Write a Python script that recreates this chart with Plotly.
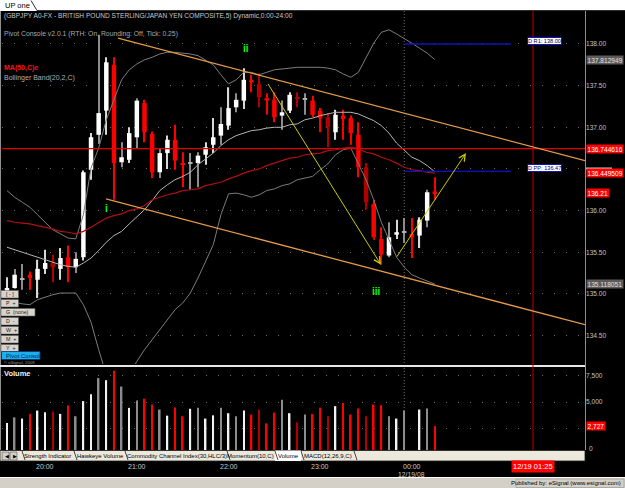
import plotly.graph_objects as go
import pandas as pd

W, H = 625, 488
def px(x): return x / W
def py(y): return 1 - y / H

FONT = "Liberation Sans, Arial, sans-serif"

# ---------------- data ----------------
first_bar = "2008-12-18 19:35"
opens  = [135.03,135.07,135.17,135.23,135.17,135.30,135.37,135.30,135.44,135.32,
          135.44,136.49,136.91,137.20,137.75,136.58,136.61,136.88,137.29,136.92,
          136.46,136.69,136.85,136.57,136.56,136.57,136.67,136.79,136.90,137.02,
          137.24,137.32,137.57,137.52,137.35,137.33,137.14,137.20,137.36,137.33,
          137.32,137.20,137.12,136.94,137.14,137.11,136.91,136.52,136.08,135.66,
          135.46,135.71,135.74,135.72,135.70,135.88,136.23]
highs  = [135.20,135.30,135.36,135.27,135.41,135.53,135.47,135.55,135.58,135.50,
          136.48,136.93,138.11,137.84,137.84,136.82,137.00,137.35,137.33,136.95,
          136.75,136.90,137.03,136.70,136.69,136.70,136.82,137.11,137.24,137.48,
          137.41,137.71,137.63,137.65,137.41,137.42,137.32,137.42,137.42,137.41,
          137.38,137.23,137.17,137.21,137.21,137.14,137.06,136.57,136.13,135.80,
          135.86,135.89,135.91,135.91,135.92,136.25,136.40]
lows   = [135.02,135.06,135.05,135.05,134.95,135.24,135.14,135.17,135.14,135.25,
          135.40,136.37,136.80,136.91,136.13,136.52,136.57,136.75,136.82,136.39,
          136.39,136.50,136.49,136.28,136.25,136.28,136.55,136.69,136.79,136.97,
          137.18,137.22,137.42,137.24,137.15,137.06,136.97,137.17,137.24,137.15,
          137.12,136.94,136.76,136.85,136.85,136.79,136.40,136.01,135.65,135.35,
          135.44,135.66,135.61,135.43,135.55,135.80,136.13]
closes = [135.07,135.23,135.17,135.19,135.30,135.37,135.32,135.43,135.32,135.42,
          136.46,136.88,137.17,137.78,136.57,136.64,136.93,137.32,136.94,136.46,
          136.69,136.85,136.60,136.55,136.56,136.66,136.76,136.88,137.04,137.23,
          137.33,137.57,137.54,137.36,137.32,137.12,137.18,137.39,137.34,137.33,
          137.15,137.11,137.00,137.15,137.10,136.93,136.52,136.10,135.68,135.47,
          135.68,135.74,135.74,135.68,135.89,136.22,136.21]
volumes = [3020,3560,3440,3890,4200,4040,4110,3890,4710,3660,
           5100,5740,7280,7080,7980,6480,4460,5160,5330,4780,
           4300,3720,4490,3660,4370,4460,3440,3750,4460,3950,
           3660,4200,3820,4300,2990,4010,5230,3950,3080,3820,
           3890,4460,3660,4620,4910,3820,4400,3660,4780,4710,
           3660,3440,4200,0,4300,4400,2727]
bar_tone = ['w','g','w','r','w','w','d','w','r','g',
            'w','w','g','w','r','g','w','g','r','r',
            'g','w','r','r','w','g','w','w','g','w',
            'g','w','r','d','r','r','g','w','d','g',
            'r','r','d','w','r','r','r','d','r','r',
            'g','w','g','r','w','g','r']
ma50 = [135.88,135.86,135.85,135.84,135.82,135.80,135.78,135.75,135.74,135.72,
        135.75,135.80,135.86,135.91,135.94,135.96,136.00,136.02,136.06,136.13,
        136.16,136.19,136.21,136.24,136.25,136.26,136.30,136.32,136.34,136.38,
        136.41,136.45,136.48,136.50,136.54,136.57,136.60,136.63,136.64,136.67,
        136.68,136.69,136.72,136.73,136.75,136.76,136.74,136.70,136.68,136.64,
        136.61,136.57,136.52,136.49,136.48,136.46,136.4495]
bb_upper = [136.24,136.16,136.10,136.04,135.95,135.86,135.77,135.72,135.67,135.66,
            135.95,136.51,136.75,137.09,137.34,137.57,137.69,137.76,137.81,137.84,
            137.88,137.90,137.90,137.89,137.88,137.86,137.81,137.75,137.63,137.52,
            137.57,137.66,137.66,137.63,137.66,137.69,137.70,137.71,137.72,137.72,
            137.72,137.72,137.71,137.69,137.64,137.60,137.66,137.83,138.01,138.14,
            138.17,138.12,138.07,138.01,137.95,137.89,137.8129]
bb_mid = [135.56,135.53,135.50,135.47,135.44,135.41,135.38,135.35,135.33,135.32,
          135.37,135.43,135.52,135.62,135.70,135.75,135.84,135.92,136.01,136.12,
          136.24,136.31,136.37,136.41,136.46,136.55,136.62,136.69,136.78,136.85,
          136.90,136.93,136.96,136.97,136.99,137.00,137.00,137.03,137.04,137.09,
          137.11,137.14,137.16,137.18,137.18,137.18,137.16,137.12,137.08,137.02,
          136.93,136.81,136.73,136.64,136.60,136.54,136.4655]
bb_lower = [134.93,134.90,134.88,134.87,134.93,134.96,134.99,135.01,135.01,135.01,
            134.87,134.66,134.33,134.03,133.91,133.91,134.03,134.19,134.33,134.45,
            134.57,134.69,134.81,134.89,135.01,135.19,135.38,135.59,135.95,136.20,
            136.21,136.19,136.16,136.19,136.24,136.26,136.30,136.32,136.37,136.39,
            136.41,136.49,136.56,136.67,136.73,136.75,136.57,136.37,136.13,135.86,
            135.65,135.44,135.32,135.23,135.19,135.15,135.1181]

price_ticks = [134.5, 135.0, 135.5, 136.0, 136.5, 137.0, 137.5, 138.0]
hidden_price_ticks = [136.5]          # covered by the MA value box in the picture
vol_ticks = [2500, 5000, 7500]
vol_tick_text = ["", "5,000", "7,500"]
hour_ticks = ["2008-12-18 20:00", "2008-12-18 21:00", "2008-12-18 22:00",
              "2008-12-18 23:00", "2008-12-19 00:00"]
hour_labels = ["20:00", "21:00", "22:00", "23:00", "00:00"]
day_label = "12/19/08"
x_range = ["2008-12-18 19:31:44", "2008-12-19 01:53:18"]
price_range = [134.158, 138.384]
vol_range = [461, 8333]

ref_line_value = 136.744616
cursor_time = "2008-12-19 01:19:15"
cursor_label = "12/19 01:25"
session_break = "2008-12-18 23:55"

pivot_names = ["D R1", "D PP"]
pivot_values = [138.00, 136.47]
pivot_start = "2008-12-18 23:55"
pivot_end = "2008-12-19 01:05"

trend_x0 = ["2008-12-18 20:47:39", "2008-12-18 20:39:48"]
trend_y0 = [138.07, 136.14]
trend_x1 = ["2008-12-19 01:53:18", "2008-12-19 01:53:18"]
trend_y1 = [136.60, 134.63]

arrow_tail_t = ["2008-12-18 22:25:10", "2008-12-18 23:49:35"]
arrow_tail_p = [137.54, 135.43]
arrow_head_t = ["2008-12-18 23:39:45", "2008-12-19 00:35:25"]
arrow_head_p = [135.35, 136.69]

wave_labels = ["i", "ii", "iii"]
wave_times = ["2008-12-18 20:40:27", "2008-12-18 22:11:24", "2008-12-18 23:37:09"]
wave_prices = [136.03, 137.95, 135.03]

marker_values = [137.812949, 136.744616, 136.449509, 136.21, 135.118051]
marker_texts = ["137.812949", "136.744616", "136.449509", "136.21", "135.118051"]
marker_bg = ["#5c5c5c", "#ff0000", "#ff0000", "#ff0000", "#5c5c5c"]
marker_fg = ["#e0e0e0", "#ffffff", "#ffffff", "#ffffff", "#e0e0e0"]
last_volume_text = "2,727"

title_text = "(GBPJPY A0-FX - BRITISH POUND STERLING/JAPAN YEN COMPOSITE,5) Dynamic,0:00-24:00"
pivot_text = "Pivot Console v2.0.1 (RTH: On, Rounding: Off, Tick: 0.25)"
ma_text = "MA(50,C)e"
bb_text = "Bollinger Band(20,2,C)"
tab_labels = ["Strength Indicator", "Hawkeye Volume", "Commodity Channel Index(30,HLC/3)",
              "Momentum(10,C)", "Volume", "MACD(12,26,9,C)"]
button_labels = ["[ - ]", "P  +", "G  (none)", "D  -", "W  +", "M  +", "Y  +"]

# ---------------- figure ----------------
times = pd.date_range(first_bar, periods=len(opens), freq="5min")
tone_col = {'w': '#f2f2f2', 'g': '#8c8c8c', 'r': '#ff0000', 'd': '#b00000'}
vol_colors = [tone_col[t] for t in bar_tone]

body_base, body_h, body_col, wick_col = [], [], [], []
for o, c, t in zip(opens, closes, bar_tone):
    body_base.append(min(o, c))
    body_h.append(max(abs(c - o), 0.012))
    if c > o:
        body_col.append('#ffffff')
        wick_col.append('#8c8c8c' if t == 'g' else '#d8d8d8')
    elif c < o:
        col = '#b00000' if t == 'd' else '#ff0000'
        body_col.append(col); wick_col.append(col)
    else:
        body_col.append('#b0b0b0'); wick_col.append('#8c8c8c')

fig = go.Figure()
fig.add_trace(go.Scatter(x=times, y=bb_upper, mode='lines', line=dict(color='#7c7c7c', width=1)))
fig.add_trace(go.Scatter(x=times, y=bb_lower, mode='lines', line=dict(color='#7c7c7c', width=1)))
fig.add_trace(go.Scatter(x=times, y=bb_mid, mode='lines', line=dict(color='#b4b4b4', width=1)))
fig.add_trace(go.Scatter(x=times, y=ma50, mode='lines', line=dict(color='#b01010', width=1.2)))
fig.add_trace(go.Bar(x=times, y=[h - l for h, l in zip(highs, lows)], base=lows, width=45000,
                     marker=dict(color=wick_col, line=dict(width=0))))
fig.add_trace(go.Bar(x=times, y=body_h, base=body_base, width=176000,
                     marker=dict(color=body_col, line=dict(width=0))))
fig.add_trace(go.Bar(x=times, y=volumes, width=62000, xaxis='x2', yaxis='y2',
                     marker=dict(color=vol_colors, line=dict(width=0))))

shapes = []
def pshape(**kw):
    d = dict(xref='paper', yref='paper', layer='above')
    d.update(kw); shapes.append(d)

# top strip and tab
pshape(type='rect', x0=0, x1=1, y0=py(11), y1=1, fillcolor='white', line=dict(width=0))
pshape(type='line', x0=px(37), x1=1, y0=py(10.5), y1=py(10.5), line=dict(color='#303030', width=1))
pshape(type='line', x0=px(31), x1=px(37), y0=py(0.5), y1=py(10.5), line=dict(color='#303030', width=1))
# left border and axis line
pshape(type='line', x0=px(0.5), x1=px(0.5), y0=py(11), y1=py(450), line=dict(color='#909090', width=1))
pshape(type='line', x0=px(585.5), x1=px(585.5), y0=py(11), y1=py(450), line=dict(color='#909090', width=1))
# panel separator
pshape(type='line', x0=0, x1=px(585), y0=py(366), y1=py(366), line=dict(color='#e8e8e8', width=2))

# reference lines
shapes.append(dict(type='line', xref='x domain', yref='y', x0=0, x1=1, y0=ref_line_value, y1=ref_line_value,
                   line=dict(color='#e00000', width=1.2), layer='above'))
shapes.append(dict(type='line', xref='x', yref='paper', x0=session_break, x1=session_break,
                   y0=py(450), y1=py(11), line=dict(color='#707070', width=1, dash='1px,2px'), layer='below'))
shapes.append(dict(type='line', xref='x', yref='paper', x0=cursor_time, x1=cursor_time,
                   y0=py(450), y1=py(11), line=dict(color='#c00000', width=1), layer='above'))
for v in pivot_values:
    shapes.append(dict(type='line', xref='x', yref='y', x0=pivot_start, x1=pivot_end, y0=v, y1=v,
                       line=dict(color='#1010c0', width=1.4), layer='above'))
for a, b, c, d in zip(trend_x0, trend_y0, trend_x1, trend_y1):
    shapes.append(dict(type='line', xref='x', yref='y', x0=a, y0=b, x1=c, y1=d,
                       line=dict(color='#e09a48', width=1.3), layer='above'))

# left buttons
btn_tops = [290.5, 299.5, 308.5, 317.5, 326.5, 335.5, 344.5]
annotations = []
def pann(text, x, y, size=7, color='#c0c0c0', xanchor='left', **kw):
    d = dict(text=text, x=px(x), y=py(y), xref='paper', yref='paper', showarrow=False,
             xanchor=xanchor, yanchor='middle', font=dict(family=FONT, size=size, color=color))
    d.update(kw); annotations.append(d)

for lab, top in zip(button_labels, btn_tops):
    right = 35 if lab.startswith('G') else 18.5
    pshape(type='rect', x0=px(1), x1=px(right), y0=py(top + 7.5), y1=py(top),
           fillcolor='#d8d4cc', line=dict(color='#606060', width=0.6))
    pann(lab.replace(' ', '\u00a0'), 3.5, top + 3.9, size=5.3, color='#202020')
pshape(type='rect', x0=px(1.5), x1=px(40), y0=py(359.5), y1=py(351.5),
       fillcolor='#18b0f0', line=dict(color='#103070', width=0.8))
pann("Pivot Console", 3.5, 355.6, size=6, color='#0a1a50')
pann("\u00a9 eSignal, 2008", 2, 362.3, size=4.3, color='#909090')

# tab bar
pshape(type='rect', x0=0, x1=px(585), y0=py(461), y1=py(450.5), fillcolor='#ece9dc',
       line=dict(color='#202020', width=0.8))
for x0 in (2, 10):
    pshape(type='rect', x0=px(x0), x1=px(x0 + 7), y0=py(460), y1=py(452), fillcolor='#d4d0c8',
           line=dict(color='#505050', width=0.6))
pann("\u25c0", 3.2, 456.2, size=5, color='#000000')
pann("\u25b6", 11.4, 456.2, size=5, color='#000000')
tab_centers = [47, 100, 176.5, 250.5, 288, 327.5]
tab_seps = [22, 74, 125, 227, 275, 301, 354]
pshape(type='rect', x0=px(275), x1=px(301), y0=py(461), y1=py(450.5), fillcolor='#ffffff',
       line=dict(width=0))
for s in tab_seps:
    pshape(type='line', x0=px(s), x1=px(s + 3), y0=py(451), y1=py(460), line=dict(color='#202020', width=0.8))
for lab, cx in zip(tab_labels, tab_centers):
    pann(lab, cx, 456, size=6, color='#000000', xanchor='center')

# status bar
pshape(type='rect', x0=0, x1=1, y0=0, y1=py(477.5), fillcolor='#d4d0c8', line=dict(width=0))
pshape(type='line', x0=0, x1=1, y0=py(477.5), y1=py(477.5), line=dict(color='#ffffff', width=1))
pshape(type='rect', x0=px(516), x1=px(624), y0=py(487.5), y1=py(479), fillcolor='#d4d0c8',
       line=dict(color='#909090', width=0.6))
pann("Published by: eSignal (www.esignal.com)", 623, 483.3, size=6, color='#000000', xanchor='right')

# top texts
pann("UP one", 2.5, 5.5, size=7.5, color='#000000')
pann(title_text, 1.5, 16, size=6.6, color='#c8c8c8')
pann(pivot_text, 1.5, 34, size=6.8, color='#a8a8a8')
pann("<b>" + ma_text + "</b>", 1.5, 68, size=7, color='#ff1010')
pann(bb_text, 1.5, 78, size=7, color='#b0b0b0')
pann("<b>Volume</b>", 1.5, 373, size=7.5, color='#f0f0f0')

# time labels
for t, lab in zip(hour_ticks, hour_labels):
    annotations.append(dict(text=lab, x=t, y=py(466.3), xref='x', yref='paper', showarrow=False,
                            xanchor='center', yanchor='middle', font=dict(family=FONT, size=7, color='#c8c8c8')))
annotations.append(dict(text=day_label, x=hour_ticks[-1], y=py(474.2), xref='x', yref='paper', showarrow=False,
                        xanchor='center', yanchor='middle', font=dict(family=FONT, size=6.8, color='#c8c8c8')))
annotations.append(dict(text=cursor_label, x=cursor_time, y=py(466.5), xref='x', yref='paper', showarrow=False,
                        xanchor='center', yanchor='middle', bgcolor='#ff0000', borderpad=1,
                        font=dict(family=FONT, size=7.5, color='#ffffff')))

# right axis value markers
pshape(type='rect', x0=px(586), x1=px(612), y0=py(169.5), y1=py(167.5), fillcolor='#c8c8c8', line=dict(width=0))
for v, t, bg, fg in zip(marker_values, marker_texts, marker_bg, marker_fg):
    annotations.append(dict(text=t, x=px(586), y=v, xref='paper', yref='y', showarrow=False,
                            xanchor='left', yanchor='middle', bgcolor=bg, borderpad=0.5,
                            font=dict(family=FONT, size=6.6, color=fg)))
annotations.append(dict(text=last_volume_text, x=px(586), y=volumes[-1], xref='paper', yref='y2', showarrow=False,
                        xanchor='left', yanchor='middle', bgcolor='#ff0000', borderpad=0.5,
                        font=dict(family=FONT, size=6.6, color='#ffffff')))
pann("0", 587, 448, size=6.6, color='#c0c0c0')

# pivot labels
for n, v in zip(pivot_names, pivot_values):
    annotations.append(dict(text=f"{n}: {v:.2f}", x=px(544.5), y=v, xref='paper', yref='y', showarrow=False,
                            xanchor='center', yanchor='middle', yshift=3, bgcolor='#ffffff',
                            bordercolor='#1010c0', borderwidth=1, borderpad=0,
                            font=dict(family=FONT, size=5.6, color='#000060')))

# yellow arrows
for tt, tp, ht, hp in zip(arrow_tail_t, arrow_tail_p, arrow_head_t, arrow_head_p):
    annotations.append(dict(text='', x=ht, y=hp, ax=tt, ay=tp, xref='x', yref='y', axref='x', ayref='y',
                            showarrow=True, arrowhead=5, arrowsize=1.3, arrowwidth=1, arrowcolor='#cccc00'))

# wave labels
for lab, t, p in zip(wave_labels, wave_times, wave_prices):
    annotations.append(dict(text="<b>" + lab + "</b>", x=t, y=p, xref='x', yref='y', showarrow=False,
                            xanchor='center', yanchor='middle', font=dict(family=FONT, size=10, color='#00ff00')))

axis_font = dict(family=FONT, size=6.6, color='#c0c0c0')
fig.update_layout(
    width=W, height=H, margin=dict(l=0, r=0, t=0, b=0),
    paper_bgcolor='black', plot_bgcolor='black', showlegend=False, barmode='overlay',
    hovermode=False,
    xaxis=dict(domain=[px(2), px(585)], range=x_range, type='date', anchor='y',
               showticklabels=False, showgrid=False, zeroline=False, showline=False),
    yaxis=dict(domain=[py(364), py(12)], range=price_range, side='right', anchor='x',
               tickvals=price_ticks,
               ticktext=["" if v in hidden_price_ticks else f"{v:.2f}" for v in price_ticks],
               tickfont=axis_font,
               ticks='', showgrid=True, gridcolor='#6a6a6a', griddash='1px,11px', gridwidth=1,
               zeroline=False, showline=False),
    xaxis2=dict(domain=[px(2), px(585)], range=x_range, type='date', anchor='y2', matches='x',
                showticklabels=False, showgrid=False, zeroline=False, showline=False),
    yaxis2=dict(domain=[py(450), py(367)], range=vol_range, side='right', anchor='x2',
                tickvals=vol_ticks, ticktext=vol_tick_text, tickfont=axis_font,
                ticks='', showgrid=True, gridcolor='#6a6a6a', griddash='1px,11px', gridwidth=1,
                zeroline=False, showline=False),
    shapes=shapes, annotations=annotations,
)
fig.write_html("out.html")
